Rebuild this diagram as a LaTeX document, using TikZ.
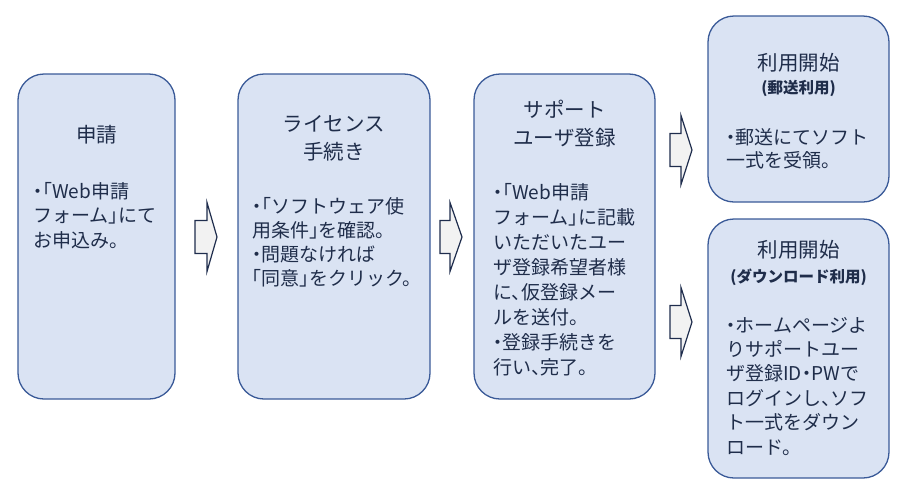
\documentclass[tikz,border=0pt]{standalone}
\usepackage{fontspec}
\setmainfont{Noto Sans CJK JP}[RawFeature=+halt]
\usepackage{tikz}
\definecolor{boxfill}{HTML}{DAE3F3}
\definecolor{boxline}{HTML}{3A5A98}
\definecolor{txt}{HTML}{1F2D4A}
\definecolor{arrfill}{HTML}{F2F2F2}
\definecolor{arrline}{HTML}{1F2D4D}
\begin{document}
\begin{tikzpicture}[x=1pt,y=-1pt,
  stepbox/.style={draw=boxline, fill=boxfill, line width=1.3pt, rounded corners=26pt, inner sep=0pt},
  steptitle/.style={anchor=base, align=center, inner sep=0pt, text=txt, font=\fontsize{20.5}{28}\selectfont},
  stepsub/.style={anchor=base, inner sep=0pt, text=txt, font=\bfseries\fontsize{15.5}{20}\selectfont},
  stepbody/.style={anchor=base west, align=left, inner sep=0pt, text=txt, font=\fontsize{19}{24.5}\selectfont},
  flowarrow/.style={draw=arrline, fill=arrfill, line width=1.2pt, line join=miter}]
\useasboundingbox (0,0) rectangle (910,491);
% boxes
\node[stepbox, minimum width=157pt, minimum height=325pt] (apply) at (96.5,236.5) {};
\node[stepbox, minimum width=192pt, minimum height=325pt] (license) at (334,236.5) {};
\node[stepbox, minimum width=181pt, minimum height=325pt] (support) at (564.5,236.5) {};
\node[stepbox, minimum width=181pt, minimum height=186pt] (mail) at (798.5,109) {};
\node[stepbox, minimum width=181pt, minimum height=259pt] (download) at (798.5,348.5) {};
% titles (base = last line)
\node[steptitle] (apply-title) at (96.5,142) {申請};
\node[steptitle] (license-title) at (334,159) {ライセンス\\手続き};
\node[steptitle] (support-title) at (564.5,145) {サポート\\ユーザ登録};
\node[steptitle] (mail-title) at (798.5,70) {利用開始};
\node[stepsub] (mail-sub) at (798.5,93) {(郵送利用)};
\node[steptitle] (download-title) at (798.5,257) {利用開始};
\node[stepsub] (download-sub) at (798.5,282) {(ダウンロード利用)};
% texts
\node[stepbody] (apply-text) at (33,247) {・「Web申請\\フォーム」にて\\お申込み。};
\node[stepbody, font=\fontsize{19}{23.7}\selectfont] (license-text) at (252,285)
  {・「ソフトウェア使\\用条件」を確認。\\・問題なければ\\「同意」をクリック。};
\node[stepbody, font=\fontsize{19}{25}\selectfont] (support-text) at (493,374)
  {・「Web申請\\フォーム」に記載\\いただいたユー\\ザ登録希望者様\\に、仮登録メー\\ルを送付。\\・登録手続きを\\行い、完了。};
\node[stepbody, font=\fontsize{19}{23}\selectfont] (mail-text) at (726,167) {・郵送にてソフト\\一式を受領。};
\node[stepbody, font=\fontsize{19}{24.4}\selectfont] (download-text) at (726,454)
  {・ホームページよ\\りサポートユー\\ザ登録ID・PWで\\ログインし、ソフ\\ト一式をダウン\\ロード。};
% block arrows
\foreach \l/\b/\t/\c in {195/207/217/237, 440/450/462/237, 670/681/692/150, 670/681/692/322}
  \draw[flowarrow] (\l,\c-16.5) -- (\b,\c-16.5) -- (\b,\c-34.5) -- (\t,\c)
    -- (\b,\c+34.5) -- (\b,\c+16.5) -- (\l,\c+16.5) -- cycle;
\end{tikzpicture}
\end{document}
